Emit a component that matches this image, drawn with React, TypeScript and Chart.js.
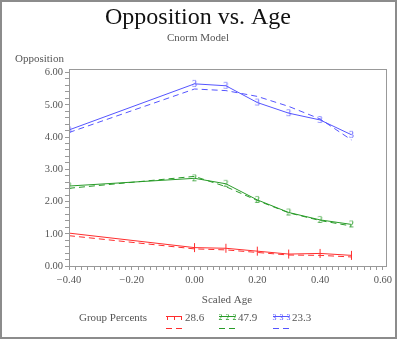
import { useEffect, useRef } from 'react';
import { Chart, registerables } from 'chart.js';
Chart.register(...registerables);

const FONT = '"Liberation Serif", "DejaVu Serif", serif';

const ages = [-0.4, 0, 0.1, 0.2, 0.3, 0.4, 0.5];
const redObs = [1.02, 0.57, 0.55, 0.46, 0.37, 0.39, 0.33];
const redPred = [0.94, 0.53, 0.5, 0.42, 0.34, 0.33, 0.28];
const greenObs = [2.48, 2.72, 2.55, 2.05, 1.66, 1.43, 1.29];
const greenPred = [2.41, 2.78, 2.46, 2.03, 1.65, 1.41, 1.24];
const blueObs = [4.22, 5.65, 5.59, 5.07, 4.74, 4.53, 4.07];
const bluePred = [4.14, 5.49, 5.44, 5.26, 4.95, 4.56, 3.91];

const groupLabels = ['28.6', '47.9', '23.3'];
const groupColors = ['rgb(255,45,45)', 'rgb(40,155,40)', 'rgb(85,85,255)'];
const groupGlyphs = ['|', '2', '3'];

const xMajor = [-0.4, -0.2, 0, 0.2, 0.4, 0.6];
const yMajor = [0, 1, 2, 3, 4, 5, 6];

function glyph(ch: string, color: string) {
  const c = document.createElement('canvas');
  c.width = 9;
  c.height = 12;
  const g = c.getContext('2d')!;
  g.fillStyle = color;
  g.font = `10px ${FONT}`;
  g.textAlign = 'center';
  g.textBaseline = 'middle';
  g.fillText(ch, 4.5, 6.5);
  return c;
}

function fmt(v: number) {
  return v.toFixed(2).replace('-', '\u2212');
}

export default function App() {
  const ref = useRef<HTMLCanvasElement>(null);
  useEffect(() => {
    const obs = [redObs, greenObs, blueObs];
    const pred = [redPred, greenPred, bluePred];
    const datasets: any[] = [];
    for (let i = 0; i < 3; i++) {
      const col = groupColors[i];
      datasets.push({
        label: groupLabels[i] + ' obs',
        data: ages.map((a, j) => ({ x: a, y: obs[i][j] })),
        borderColor: col,
        backgroundColor: col,
        borderWidth: 1,
        pointStyle: i === 0 ? 'line' : glyph(groupGlyphs[i], col),
        rotation: i === 0 ? 90 : 0,
        pointRadius: 4.5,
        pointBorderWidth: 1,
        tension: 0,
      });
      datasets.push({
        label: groupLabels[i] + ' pred',
        data: ages.map((a, j) => ({ x: a, y: pred[i][j] })),
        borderColor: col,
        borderWidth: 1,
        borderDash: [6, 4],
        pointRadius: 0,
        tension: 0,
      });
    }

    const xTicks: number[] = [];
    for (let k = -20; k <= 30; k++) xTicks.push(k / 50);
    const yTicks: number[] = [];
    for (let k = 0; k <= 30; k++) yTicks.push(k / 5);

    const isMajor = (v: number, majors: number[]) => majors.some((m) => Math.abs(m - v) < 1e-6);

    const decor = {
      id: 'decor',
      afterDraw(chart: any) {
        const ctx = chart.ctx as CanvasRenderingContext2D;
        const ca = chart.chartArea;
        ctx.save();
        ctx.strokeStyle = '#999';
        ctx.lineWidth = 1;
        ctx.strokeRect(Math.round(ca.left) + 0.5, Math.round(ca.top) + 0.5, Math.round(ca.right - ca.left), Math.round(ca.bottom - ca.top));
        ctx.strokeStyle = '#8c8c8c';
        ctx.lineWidth = 2;
        ctx.strokeRect(1, 1, 395, 337);
        ctx.fillStyle = '#111';
        ctx.textAlign = 'center';
        ctx.textBaseline = 'alphabetic';
        ctx.font = `24px ${FONT}`;
        ctx.fillText('Opposition vs. Age', 198, 24);
        ctx.fillStyle = '#555';
        ctx.font = `11px ${FONT}`;
        ctx.fillText('Cnorm Model', 198, 41);
        ctx.fillText('Scaled Age', 227, 303);
        ctx.textAlign = 'left';
        ctx.fillText('Opposition', 15, 62);
        ctx.fillText('Group Percents', 79, 321);
        const xs = [166, 219, 273];
        for (let i = 0; i < 3; i++) {
          const x0 = xs[i];
          const col = groupColors[i];
          ctx.strokeStyle = col;
          ctx.fillStyle = col;
          ctx.lineWidth = 1;
          ctx.setLineDash([]);
          ctx.beginPath();
          ctx.moveTo(x0, 316.5);
          ctx.lineTo(x0 + 16, 316.5);
          ctx.stroke();
          for (let k = 0; k < 3; k++) {
            const px = x0 + 1 + k * 7;
            if (i === 0) {
              ctx.beginPath();
              ctx.moveTo(px + 0.5, 316);
              ctx.lineTo(px + 0.5, 320);
              ctx.stroke();
            } else {
              ctx.font = `8px ${FONT}`;
              ctx.textAlign = 'center';
              ctx.textBaseline = 'middle';
              ctx.fillText(groupGlyphs[i], px + 0.5, 318);
            }
          }
          ctx.setLineDash([6, 4]);
          ctx.beginPath();
          ctx.moveTo(x0, 328.5);
          ctx.lineTo(x0 + 16, 328.5);
          ctx.stroke();
          ctx.setLineDash([]);
          ctx.fillStyle = '#555';
          ctx.font = `11px ${FONT}`;
          ctx.textAlign = 'left';
          ctx.textBaseline = 'alphabetic';
          ctx.fillText(groupLabels[i], x0 + 19, 321);
        }
        ctx.restore();
      },
    };

    const chart = new Chart(ref.current!, {
      type: 'line',
      data: { datasets },
      options: {
        animation: false,
        responsive: false,
        maintainAspectRatio: false,
        layout: { padding: { top: 69, right: 14, left: 0, bottom: 0 } },
        plugins: { legend: { display: false }, title: { display: false }, tooltip: { enabled: false } },
        scales: {
          x: {
            type: 'linear',
            min: -0.4,
            max: 0.61,
            afterBuildTicks: (s: any) => {
              s.ticks = xTicks.map((v) => ({ value: v }));
            },
            afterFit: (s: any) => {
              s.height = 78;
            },
            grid: { display: true, drawOnChartArea: false, drawTicks: true, tickLength: 4, color: '#999' },
            border: { display: true, color: '#999' },
            ticks: {
              autoSkip: false,
              maxRotation: 0,
              minRotation: 0,
              padding: 4,
              color: '#555',
              font: { family: FONT, size: 10.5 },
              callback: (v: any) => (isMajor(Number(v), xMajor) ? fmt(Number(v)) : ''),
            },
          },
          y: {
            type: 'linear',
            min: 0,
            max: 6.11,
            afterBuildTicks: (s: any) => {
              s.ticks = yTicks.map((v) => ({ value: v }));
            },
            afterFit: (s: any) => {
              s.width = 69;
            },
            grid: { display: true, drawOnChartArea: false, drawTicks: true, tickLength: 4, color: '#999' },
            border: { display: true, color: '#999' },
            ticks: {
              autoSkip: false,
              padding: 2,
              color: '#555',
              font: { family: FONT, size: 10.5 },
              callback: (v: any) => (isMajor(Number(v), yMajor) ? fmt(Number(v)) : ''),
            },
          },
        },
      },
      plugins: [decor],
    });
    return () => chart.destroy();
  }, []);
  return (
    <div style={{ position: 'fixed', left: 0, top: 0, width: 400, height: 344, background: '#fff' }}>
      <canvas ref={ref} width={400} height={344} style={{ width: 400, height: 344, display: 'block' }} />
    </div>
  );
}
